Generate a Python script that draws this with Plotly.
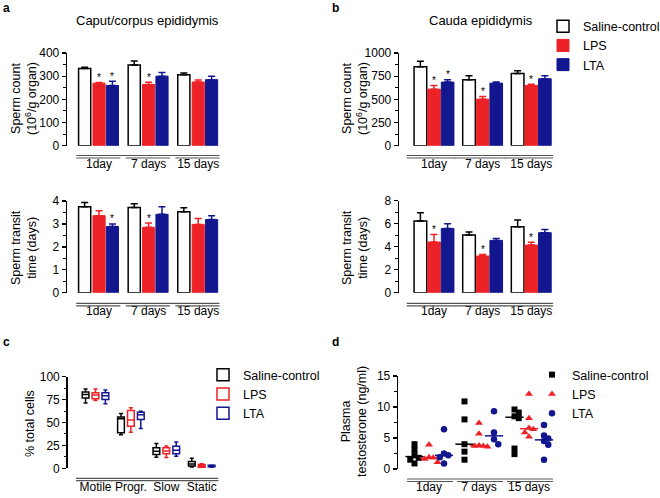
import numpy as np
import plotly.graph_objects as go

W, H = 660, 498


def fx(p):
    return p / W


def fy(p):
    return 1 - p / H


# ---------------- data ----------------
days = ["1day", "7 days", "15 days"]
series = ["Saline-control", "LPS", "LTA"]

# Caput/corpus sperm count (10^6/g organ)
caput_count_ctrl = [333, 348, 306]
caput_count_ctrl_err = [5, 18, 8]
caput_count_lps = [270, 264, 275]
caput_count_lps_err = [3, 10, 9]
caput_count_lta = [260, 300, 285]
caput_count_lta_err = [18, 16, 15]
caput_count_sig_lps = [1, 1, 0]
caput_count_sig_lta = [1, 0, 0]

# Caput/corpus sperm transit time (days)
caput_transit_ctrl = [3.75, 3.72, 3.53]
caput_transit_ctrl_err = [0.19, 0.16, 0.18]
caput_transit_lps = [3.36, 2.85, 2.98]
caput_transit_lps_err = [0.22, 0.19, 0.26]
caput_transit_lta = [2.89, 3.42, 3.19]
caput_transit_lta_err = [0.11, 0.33, 0.17]
caput_transit_sig_lps = [0, 1, 0]
caput_transit_sig_lta = [1, 0, 0]

# Cauda sperm count
cauda_count_ctrl = [852, 711, 780]
cauda_count_ctrl_err = [58, 44, 29]
cauda_count_lps = [610, 502, 650]
cauda_count_lps_err = [40, 29, 14]
cauda_count_lta = [686, 675, 722]
cauda_count_lta_err = [25, 11, 33]
cauda_count_sig_lps = [1, 1, 1]
cauda_count_sig_lta = [1, 0, 0]

# Cauda sperm transit time
cauda_transit_ctrl = [6.23, 5.01, 5.74]
cauda_transit_ctrl_err = [0.73, 0.27, 0.58]
cauda_transit_lps = [4.40, 3.19, 4.14]
cauda_transit_lps_err = [0.67, 0.14, 0.24]
cauda_transit_lta = [5.59, 4.55, 5.22]
cauda_transit_lta_err = [0.41, 0.17, 0.28]
cauda_transit_sig_lps = [1, 1, 1]
cauda_transit_sig_lta = [0, 0, 0]

# Motility (% total cells) box stats
motility_cats = ["Motile", "Progr.", "Slow", "Static"]
mot_ctrl_min = [71.2, 36.5, 12.0, 1.5]
mot_ctrl_q1 = [76.7, 38.7, 15.0, 2.5]
mot_ctrl_med = [80.7, 54.0, 18.6, 4.7]
mot_ctrl_q3 = [83.2, 55.9, 22.3, 7.5]
mot_ctrl_max = [86.5, 59.9, 27.0, 11.0]
mot_lps_min = [74.1, 39.4, 11.7, 0.8]
mot_lps_q1 = [76.0, 46.0, 16.0, 1.2]
mot_lps_med = [80.0, 52.6, 18.9, 2.7]
mot_lps_q3 = [82.5, 63.2, 22.3, 4.2]
mot_lps_max = [86.5, 66.0, 24.4, 5.0]
mot_lta_min = [70.5, 43.5, 13.1, 1.2]
mot_lta_q1 = [75.0, 53.3, 16.0, 1.6]
mot_lta_med = [79.3, 58.4, 19.7, 2.5]
mot_lta_q3 = [82.5, 61.3, 24.0, 3.2]
mot_lta_max = [85.4, 62.4, 28.8, 3.5]

# Plasma testosterone (ng/ml) individual animals
testo_ctrl_1d = [4.0, 3.1, 2.2, 1.8, 1.5, 0.9]
testo_ctrl_7d = [10.9, 8.0, 4.0, 2.8, 1.5]
testo_ctrl_15d = [9.6, 9.1, 8.5, 8.2, 3.3, 2.4]
testo_lps_1d = [3.9, 1.9, 1.8, 1.6, 1.1]
testo_lps_7d = [7.4, 5.7, 3.8, 3.7, 3.7, 3.6]
testo_lps_15d = [12.1, 8.2, 6.6, 6.4, 5.9, 5.2]
testo_lta_1d = [6.4, 2.5, 2.2, 1.9, 0.9]
testo_lta_7d = [9.3, 5.9, 4.8, 4.0]
testo_lta_15d = [7.1, 5.4, 4.9, 4.5, 3.9, 1.5]

# ---------------- styles ----------------
RED = "#EC2227"
BLUE = "#12168F"
BLACK = "#000000"
GRAY = "#555555"
FONT = "Arial, Liberation Sans, sans-serif"

fig = go.Figure()
shapes = []
annotations = []


def bar_panel(ax, vals, errs, sigs, offs, width, showlegend):
    xa = "x" if ax == 1 else "x%d" % ax
    ya = "y" if ax == 1 else "y%d" % ax
    styles = [("white", BLACK, 1.5), (RED, RED, 1), (BLUE, BLUE, 1)]
    for s in range(3):
        fill, lc, lw = styles[s]
        xs = [i + offs[s] for i in range(3)]
        fig.add_trace(go.Bar(
            x=xs, y=vals[s], width=width, name=series[s],
            marker=dict(color=fill, line=dict(color=lc, width=lw)),
            error_y=dict(type="data", array=errs[s], arrayminus=[0] * 3,
                         symmetric=False, color=lc, thickness=1.5, width=3.5),
            xaxis=xa, yaxis=ya, showlegend=showlegend, legend="legend",
            hoverinfo="skip"))
        if sigs[s] is not None:
            for i in range(3):
                if sigs[s][i]:
                    annotations.append(dict(
                        text="*", x=xs[i], y=vals[s][i] + errs[s][i],
                        xref=xa, yref=ya, showarrow=False,
                        xanchor="center", yanchor="middle", yshift=5,
                        font=dict(size=10, color=BLACK, family=FONT)))


def bracket(xa, n, lo, hi, y_top, y_seg):
    shapes.append(dict(type="line", xref=xa, yref="paper", x0=lo, x1=n - 1 + hi,
                       y0=fy(y_top), y1=fy(y_top), line=dict(color=GRAY, width=1.2)))
    for i in range(n):
        shapes.append(dict(type="line", xref=xa, yref="paper", x0=i + lo, x1=i + hi,
                           y0=fy(y_seg), y1=fy(y_seg), line=dict(color=GRAY, width=1.2)))


off_a = [-0.29, 0.0, 0.27]
off_b = [-0.28, 0.0, 0.28]

bar_panel(1, [caput_count_ctrl, caput_count_lps, caput_count_lta],
          [caput_count_ctrl_err, caput_count_lps_err, caput_count_lta_err],
          [None, caput_count_sig_lps, caput_count_sig_lta], off_a, 0.245, False)
bar_panel(2, [caput_transit_ctrl, caput_transit_lps, caput_transit_lta],
          [caput_transit_ctrl_err, caput_transit_lps_err, caput_transit_lta_err],
          [None, caput_transit_sig_lps, caput_transit_sig_lta], off_a, 0.245, False)
bar_panel(3, [cauda_count_ctrl, cauda_count_lps, cauda_count_lta],
          [cauda_count_ctrl_err, cauda_count_lps_err, cauda_count_lta_err],
          [None, cauda_count_sig_lps, cauda_count_sig_lta], off_b, 0.26, True)
bar_panel(4, [cauda_transit_ctrl, cauda_transit_lps, cauda_transit_lta],
          [cauda_transit_ctrl_err, cauda_transit_lps_err, cauda_transit_lta_err],
          [None, cauda_transit_sig_lps, cauda_transit_sig_lta], off_b, 0.26, False)

# ---------------- motility boxes ----------------
box_off = [-0.28, 0.0, 0.28]
box_stats = [
    (mot_ctrl_min, mot_ctrl_q1, mot_ctrl_med, mot_ctrl_q3, mot_ctrl_max, BLACK),
    (mot_lps_min, mot_lps_q1, mot_lps_med, mot_lps_q3, mot_lps_max, RED),
    (mot_lta_min, mot_lta_q1, mot_lta_med, mot_lta_q3, mot_lta_max, BLUE),
]
for s, (mn, q1, md, q3, mx, c) in enumerate(box_stats):
    fig.add_trace(go.Box(
        x=[i + box_off[s] for i in range(len(motility_cats))],
        lowerfence=mn, q1=q1, median=md, q3=q3, upperfence=mx,
        width=0.19, whiskerwidth=0.6, fillcolor="white",
        line=dict(color=c, width=1.5), name=series[s], boxpoints=False,
        xaxis="x5", yaxis="y5", legend="legend2", hoverinfo="skip"))

# ---------------- testosterone dot plot ----------------


def swarm(vals, dx=0.085, dy=0.8):
    vals = list(vals)
    order = np.argsort(-np.array(vals), kind="stable")
    placed = []
    offs = [0.0] * len(vals)
    for i in order:
        v = vals[i]
        for k in [0, 1, -1, 2, -2, 3, -3]:
            o = k * dx
            if all(abs(v - pv) >= dy or abs(o - po) >= dx * 0.99 for pv, po in placed):
                break
        placed.append((v, o))
        offs[i] = o
    return offs


dot_series = [
    ([testo_ctrl_1d, testo_ctrl_7d, testo_ctrl_15d], BLACK, "square", 6),
    ([testo_lps_1d, testo_lps_7d, testo_lps_15d], RED, "triangle-up", 7),
    ([testo_lta_1d, testo_lta_7d, testo_lta_15d], BLUE, "circle", 6.5),
]
dot_off = [-0.29, 0.0, 0.30]
for s, (groups, c, sym, sz) in enumerate(dot_series):
    xs, ys, mx, my = [], [], [], []
    for g, vals in enumerate(groups):
        for v, o in zip(vals, swarm(vals)):
            xs.append(g + dot_off[s] + o)
            ys.append(v)
        mx.append(g + dot_off[s])
        my.append(float(np.median(vals)))
    fig.add_trace(go.Scatter(
        x=xs, y=ys, mode="markers", name=series[s],
        marker=dict(color=c, symbol=sym, size=sz, line=dict(width=0)),
        xaxis="x6", yaxis="y6", legend="legend3", cliponaxis=False,
        hoverinfo="skip"))
    fig.add_trace(go.Scatter(
        x=mx, y=my, mode="markers", showlegend=False,
        marker=dict(symbol="line-ew", size=13, line=dict(color=c, width=1.5)),
        xaxis="x6", yaxis="y6", cliponaxis=False, hoverinfo="skip"))

# ---------------- axes ----------------


def xax(dom, rng, labels, pos):
    return dict(domain=[fx(dom[0]), fx(dom[1])], range=rng, showgrid=False,
                zeroline=False, showline=False, ticks="",
                tickvals=list(range(len(labels))), ticktext=labels,
                anchor="free", position=fy(pos), automargin=False,
                tickfont=dict(size=12, family=FONT, color=BLACK), fixedrange=True)


def yax(dom, rng, dtick, minor, anchor):
    return dict(domain=[fy(dom[1]), fy(dom[0])], range=rng, showgrid=False,
                zeroline=False, showline=True, linecolor=BLACK, linewidth=1.3,
                ticks="outside", ticklen=4, tickwidth=1.3, tickcolor=BLACK,
                dtick=dtick, tick0=0, automargin=False,
                minor=dict(dtick=minor, tick0=0, ticks="outside", ticklen=2.5,
                           tickwidth=1, tickcolor=BLACK),
                tickfont=dict(size=12, family=FONT, color=BLACK),
                anchor=anchor, fixedrange=True)


fig.update_layout(
    xaxis=xax((67, 223), [-0.646, 2.5], days, 155),
    yaxis=yax((53, 145.7), [0, 400], 100, 50, "x"),
    xaxis2=xax((67, 223), [-0.646, 2.5], days, 302),
    yaxis2=yax((201, 292.7), [0, 4], 1, 0.5, "x2"),
    xaxis3=xax((399, 558), [-0.72, 2.55], days, 155),
    yaxis3=yax((53, 145.7), [0, 1000], 250, 125, "x3"),
    xaxis4=xax((399, 558), [-0.72, 2.55], days, 302),
    yaxis4=yax((200.7, 292.7), [0, 8], 2, 1, "x4"),
    xaxis5=xax((67.5, 221.2), [-0.79, 3.55], motility_cats, 478),
    yaxis5=yax((376.7, 468.3), [0, 100], 25, 12.5, "x5"),
    xaxis6=xax((398, 557), [-0.62, 2.56], days, 478),
    yaxis6=yax((376, 469), [0, 15], 5, 2.5, "x6"),
)

bracket("x", 3, -0.46, 0.43, 155.5, 158)
bracket("x2", 3, -0.46, 0.43, 303.3, 305.8)
bracket("x3", 3, -0.56, 0.45, 155.5, 158)
bracket("x4", 3, -0.56, 0.45, 303.3, 305.8)
bracket("x5", 4, -0.55, 0.47, 478.3, 480.7)
bracket("x6", 3, -0.44, 0.48, 479, 481.5)


def ann(text, x, y, size=12, bold=False, angle=0):
    annotations.append(dict(
        text=("<b>%s</b>" % text) if bold else text, x=fx(x), y=fy(y),
        xref="paper", yref="paper", showarrow=False, xanchor="center",
        yanchor="middle", textangle=angle,
        font=dict(size=size, family=FONT, color=BLACK)))


ann("a", 6, 8, 12, True)
ann("b", 335, 8, 12, True)
ann("c", 6, 342, 12, True)
ann("d", 336, 342, 12, True)
ann("Caput/corpus epididymis", 147.5, 21, 13)
ann("Cauda epididymis", 480.5, 21, 13)
ann("Sperm count<br>(10<sup>6</sup>/g organ)", 24, 99, 12.5, angle=-90)
ann("Sperm transit<br>time (days)", 24, 248, 12.5, angle=-90)
ann("Sperm count<br>(10<sup>6</sup>/g organ)", 355, 99, 12.5, angle=-90)
ann("Sperm transit<br>time (days)", 355, 248, 12.5, angle=-90)
ann("% total cells", 30, 424, 12.5, angle=-90)
ann("Plasma<br>testosterone (ng/ml)", 354, 422, 12.5, angle=-90)

leg_common = dict(xanchor="left", yanchor="top", bgcolor="rgba(0,0,0,0)",
                  font=dict(size=12.5, family=FONT, color=BLACK),
                  tracegroupgap=0, itemclick=False, itemdoubleclick=False)

fig.update_layout(
    width=W, height=H, margin=dict(l=0, r=0, t=0, b=0, pad=0, autoexpand=False),
    paper_bgcolor="white", plot_bgcolor="white",
    barmode="overlay", boxmode="overlay",
    font=dict(family=FONT, size=12, color=BLACK),
    shapes=shapes, annotations=annotations,
    legend=dict(x=fx(543), y=fy(11.5), **leg_common),
    legend2=dict(x=fx(203), y=fy(360), **leg_common),
    legend3=dict(x=fx(532), y=fy(360), **leg_common),
)

fig.write_html("out.html",
               config={"displayModeBar": False, "staticPlot": True},
               post_script="document.body.style.margin='0';"
                           "document.body.style.overflow='hidden';")
